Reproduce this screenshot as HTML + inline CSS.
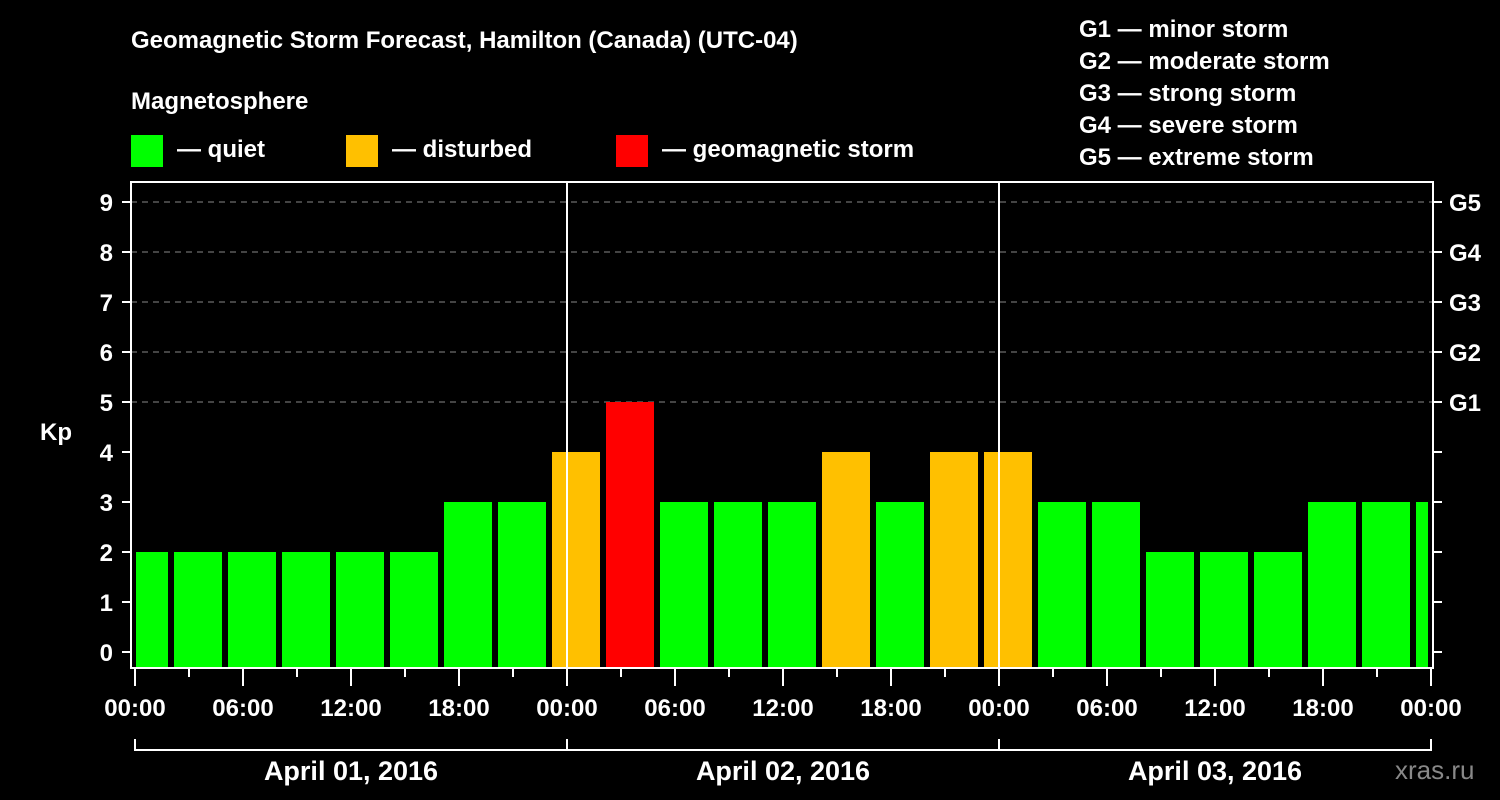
<!DOCTYPE html>
<html><head><meta charset="utf-8"><style>
html,body{margin:0;padding:0;background:#000;}
svg{display:block;font-family:"Liberation Sans",Arial,sans-serif;font-weight:bold;}
</style></head><body>
<svg id="c" width="1500" height="800" viewBox="0 0 1500 800">
<rect width="1500" height="800" fill="#000"/>
<g fill="#fff" font-size="24">
<text x="131" y="48">Geomagnetic Storm Forecast, Hamilton (Canada) (UTC-04)</text>
<text x="131" y="109">Magnetosphere</text>
<rect x="131" y="135" width="32" height="32" fill="#00ff00"/>
<text x="177" y="157">— quiet</text>
<rect x="346" y="135" width="32" height="32" fill="#ffc000"/>
<text x="392" y="157">— disturbed</text>
<rect x="616" y="135" width="32" height="32" fill="#ff0000"/>
<text x="662" y="157">— geomagnetic storm</text>
<text x="1079" y="37">G1 — minor storm</text>
<text x="1079" y="69">G2 — moderate storm</text>
<text x="1079" y="101">G3 — strong storm</text>
<text x="1079" y="133">G4 — severe storm</text>
<text x="1079" y="165">G5 — extreme storm</text>
<text x="40" y="440">Kp</text>
<text x="1395" y="779" fill="#888" font-weight="normal" font-size="26">xras.ru</text>
</g>
<g id="grid"></g><g id="bars"></g><g id="axes"></g>
</svg>
<script>
const kpValues=[2,2,2,2,2,2,3,3,4,5,3,3,3,4,3,4,4,3,3,2,2,2,3,3,3];
const yTicks=[0,1,2,3,4,5,6,7,8,9];
const gLabels=["G1","G2","G3","G4","G5"];
const xTickLabels=["00:00","06:00","12:00","18:00","00:00","06:00","12:00","18:00","00:00","06:00","12:00","18:00","00:00"];
const dayLabels=["April 01, 2016","April 02, 2016","April 03, 2016"];
const NS="http://www.w3.org/2000/svg";
const X0=135,PXH=18,Y0=652,PXK=50,BOT=668,TOP=182,L=131,R=1433;
const xs=h=>X0+h*PXH, ys=k=>Y0-k*PXK;
function mk(p,tag,a){const e=document.createElementNS(NS,tag);for(const k in a)e.setAttribute(k,a[k]);p.appendChild(e);return e;}
const grid=document.getElementById('grid'),bars=document.getElementById('bars'),ax=document.getElementById('axes');
for(let k=5;k<=9;k++){const l=mk(grid,'line',{x1:L,x2:R,y1:ys(k),y2:ys(k),stroke:'#888','stroke-dasharray':'6,5','stroke-width':1});

}
kpValues.forEach((v,i)=>{let x1=xs(3*i)-15,x2=x1+48;x1=Math.max(x1,136);x2=Math.min(x2,1428);
const col=v>=5?'#ff0000':(v>=4?'#ffc000':'#00ff00');
const r=mk(bars,'rect',{x:x1,y:ys(v),width:x2-x1,height:BOT-ys(v),fill:col});

});
[1,2].forEach(d=>{const l=mk(ax,'line',{x1:xs(24*d),x2:xs(24*d),y1:TOP,y2:BOT,stroke:'#fff','stroke-width':2});

});
const fr=mk(ax,'rect',{x:L,y:TOP,width:R-L,height:BOT-TOP,fill:'none',stroke:'#fff','stroke-width':2});


yTicks.forEach(k=>{mk(ax,'line',{x1:122,x2:L,y1:ys(k),y2:ys(k),stroke:'#fff','stroke-width':2});
mk(ax,'line',{x1:R,x2:1442,y1:ys(k),y2:ys(k),stroke:'#fff','stroke-width':2});
const t=mk(ax,'text',{x:113,y:ys(k)+9,'text-anchor':'end',fill:'#fff','font-size':24});t.textContent=k;

});
gLabels.forEach((g,i)=>{const t=mk(ax,'text',{x:1449,y:ys(5+i)+9,fill:'#fff','font-size':24});t.textContent=g;

});
for(let h=0;h<=72;h+=3){const long=h%6===0;mk(ax,'line',{x1:xs(h),x2:xs(h),y1:BOT,y2:long?686:677,stroke:'#fff','stroke-width':2});}
xTickLabels.forEach((s,i)=>{const t=mk(ax,'text',{x:xs(6*i),y:716,'text-anchor':'middle',fill:'#fff','font-size':24});t.textContent=s;

});
mk(ax,'line',{x1:xs(0),x2:xs(72),y1:750,y2:750,stroke:'#fff','stroke-width':2});
for(let d=0;d<=3;d++)mk(ax,'line',{x1:xs(24*d),x2:xs(24*d),y1:739,y2:751,stroke:'#fff','stroke-width':2});
dayLabels.forEach((s,d)=>{const t=mk(ax,'text',{x:xs(24*d+12),y:780,'text-anchor':'middle',fill:'#fff','font-size':27});t.textContent=s;

});
</script>
</body></html>
